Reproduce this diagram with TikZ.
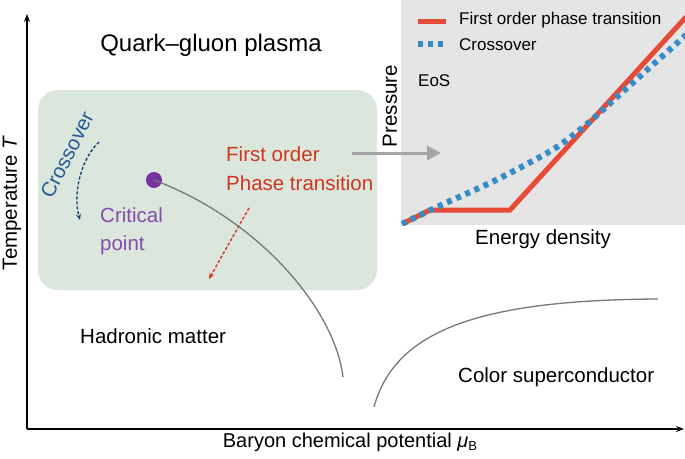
\documentclass[tikz,border=0pt]{standalone}
\usepackage{fontspec}
\setmainfont{Liberation Sans}
\usetikzlibrary{arrows.meta}
\definecolor{boxgreen}{RGB}{219,231,221}
\definecolor{boxgray}{RGB}{229,229,229}
\definecolor{xlabelblue}{RGB}{40,90,150}
\definecolor{xarrowblue}{RGB}{25,65,125}
\definecolor{dotpurple}{RGB}{120,50,160}
\definecolor{txtpurple}{RGB}{135,75,170}
\definecolor{txtred}{RGB}{205,55,30}
\definecolor{arrred}{RGB}{215,55,35}
\definecolor{eosred}{RGB}{230,75,55}
\definecolor{eosblue}{RGB}{55,140,200}
\definecolor{linegray}{RGB}{120,120,120}
\definecolor{arrgray}{RGB}{165,165,165}
\tikzset{
  lbl/.style={font=\fontsize{20.5}{25}\selectfont, inner sep=0pt},
  leg/.style={font=\fontsize{17}{20}\selectfont, inner sep=0pt},
  axisline/.style={line width=1.8pt, -{Stealth[length=8pt,width=6pt]}},
  phaseline/.style={linegray, line width=1.3pt},
  eosfirst/.style={eosred, line width=5pt},
  eoscross/.style={eosblue, line width=6pt, dash pattern=on 5pt off 5pt},
}
\begin{document}
\begin{tikzpicture}[x=1pt,y=-1pt]
\useasboundingbox (0,0) rectangle (685,458);
% boxes
\node (qgpbox) [fill=boxgreen, rounded corners=20pt, minimum width=339pt, minimum height=200pt, inner sep=0pt] at (207.5,190) {};
\node (eosbox) [fill=boxgray, minimum width=284pt, minimum height=225pt, inner sep=0pt] at (543,112.5) {};
% axes
\coordinate (origin) at (27,429);
\coordinate (ytop) at (27,14);
\coordinate (xend) at (684,429);
\draw[axisline] (origin) -- (ytop);
\draw[axisline] (origin) -- (xend);
\node (ylabel) [lbl, rotate=90] at (12,203) {Temperature \textit{T}};
\node (xlabel) [lbl, font=\fontsize{20}{24}\selectfont] at (350,442) {Baryon chemical potential \textit{μ}\raisebox{-0.3ex}{\fontsize{13}{13}\selectfont B}};
% region labels
\node (qgp) [lbl, font=\fontsize{24}{28}\selectfont] at (211,45) {Quark–gluon plasma};
\node (hadron) [lbl, anchor=west] at (80,336) {Hadronic matter};
\node (csc) [lbl, anchor=west] at (458,377) {Color superconductor};
% critical point
\node (cp) [circle, fill=dotpurple, minimum size=16pt, inner sep=0pt] at (154,180) {};
\node (cptext) [lbl, anchor=west, text=txtpurple, align=left] at (100,231) {Critical\\[3pt]point};
% crossover
\node (cross) [lbl, text=xlabelblue, rotate=63] at (67,155) {Crossover};
\coordinate (cxs) at (99,142);
\coordinate (cxe) at (80,220);
\draw[xarrowblue, line width=1.4pt, dash pattern=on 3pt off 2pt, -{Stealth[length=6pt,width=5pt]}] (cxs) .. controls (80,160) and (73,195) .. (cxe);
% first order
\node (fo) [lbl, anchor=west, text=txtred, align=left] at (226,169) {First order\\[4pt]Phase transition};
\coordinate (fos) at (249,208);
\coordinate (foe) at (209,279);
\draw[arrred, line width=1.4pt, dash pattern=on 3pt off 2pt, -{Stealth[length=6pt,width=5pt]}] (fos) -- (foe);
% phase boundaries
\coordinate (cpend) at (343,377);
\draw[phaseline] (cp.center) .. controls (260,220) and (335,310) .. (cpend);
\coordinate (cscs) at (374,407);
\coordinate (csce) at (658,299);
\draw[phaseline] (cscs) .. controls (395,330) and (480,300) .. (csce);
% gray arrow to EoS
\coordinate (gas) at (352,153);
\coordinate (gae) at (441,153);
\draw[arrgray, line width=3pt, -{Triangle[length=14pt,width=14pt]}] (gas) -- (gae);
% EoS panel
\node (press) [lbl, rotate=90] at (390,106) {Pressure};
\node (energy) [lbl] at (543,239) {Energy density};
\node (eos) [leg, anchor=west] at (418,81) {EoS};
\coordinate (l1a) at (418,21);
\coordinate (l1b) at (446,21);
\coordinate (l2a) at (418,44);
\coordinate (l2b) at (446,44);
\draw[eosfirst] (l1a) -- (l1b);
\draw[eoscross] (l2a) -- (l2b);
\node (leg1) [leg, anchor=west] at (459,20) {First order phase transition};
\node (leg2) [leg, anchor=west] at (459,45) {Crossover};
\begin{scope}
\clip (401,0) rectangle (685,225);
\draw[eosfirst] (402,224) -- (430,210) -- (510,210) -- (686,17);
\draw[eoscross] plot[smooth] coordinates {(402,224) (437,207) (492,182) (527,164) (557,147) (587,124) (617,97) (647,70) (686,35)};
\end{scope}
\end{tikzpicture}
\end{document}
